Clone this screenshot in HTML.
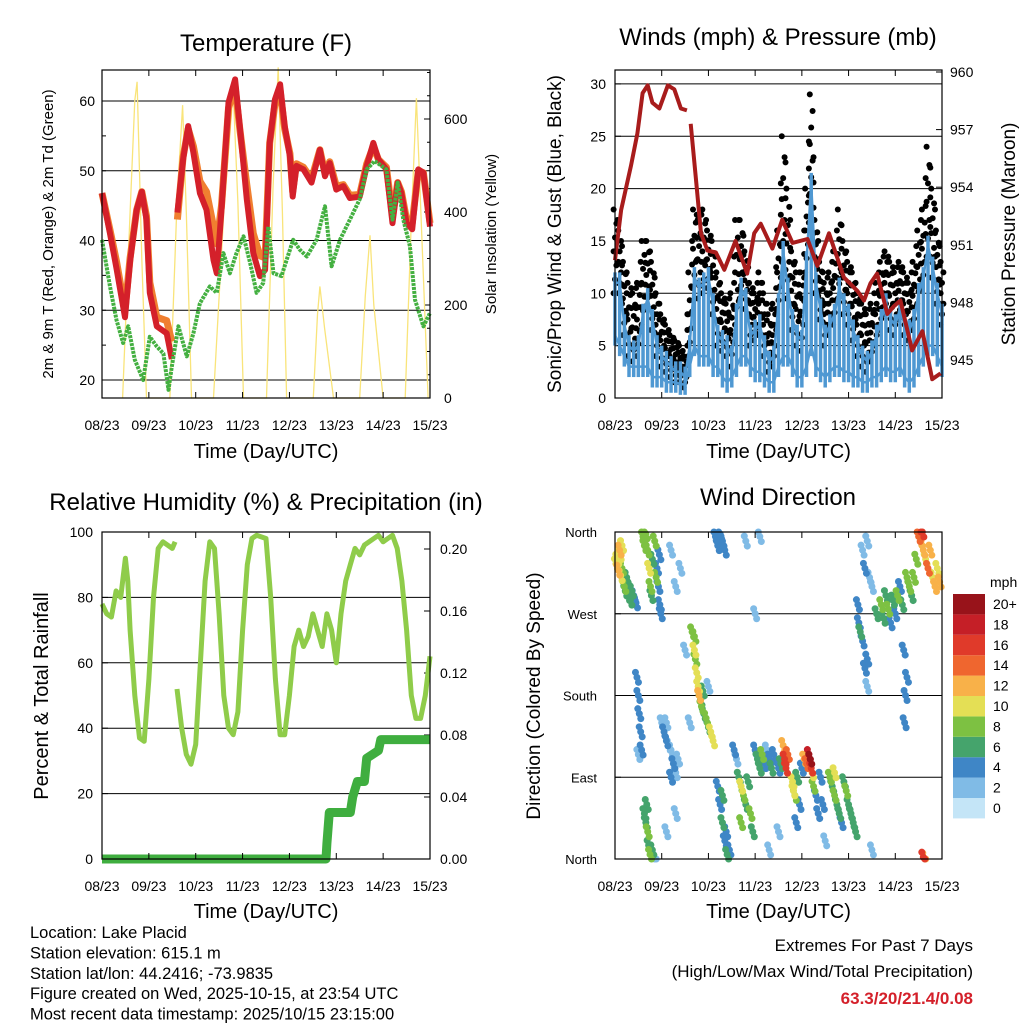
<!DOCTYPE html>
<html><head><meta charset="utf-8"><style>
body{margin:0;background:#fff}
svg{display:block;font-family:"Liberation Sans",sans-serif}
</style></head><body>
<svg id="c" width="1024" height="1024" viewBox="0 0 1024 1024" xmlns="http://www.w3.org/2000/svg">
<rect width="1024" height="1024" fill="#fff"/>
<g id="g"></g>
</svg>
<script>
// ---- Temperature data (t in days since 08/23) ----
const tempT=[0,0.17,0.31,0.49,0.6,0.74,0.85,0.95,1.02,1.17,1.38,1.49,null,1.61,1.73,1.84,1.95,2.09,2.23,2.38,2.45,2.55,2.7,2.84,2.94,3.09,3.23,3.37,3.48,3.58,3.69,3.8,3.9,4.01,4.07,4.15,4.3,4.47,4.65,4.76,4.86,5.0,5.15,5.29,5.5,5.65,5.79,5.9,6.07,6.2,6.31,6.39,6.5,6.62,6.75,6.86,7.0];
const tempRed=[46.8,41,36,29,37,44.4,47,43,32.5,27.7,26.7,23,null,44,51.6,56.4,52.6,46.8,44.4,37.2,35.3,44.4,59.8,63.1,56.4,45.9,38.2,34.9,35.8,54,60.2,62.4,56.4,52.1,46.3,50.7,50.2,48.3,53,49.2,51.1,47.3,47.8,46.1,46.3,50.7,54,51.6,50.2,42.5,48.3,46.8,42.5,41.6,50.2,49.7,42];
const tempOrange=[46.8,41.5,37,30,37.5,44.4,47,43.5,34,29,28.5,25.5,null,43,52,56,53.5,48.5,47,42,39.5,45,59,62,56,48,41,37.8,37.5,54,59.5,61.5,56,52.5,47,51,50.5,48.8,53,49.6,51.3,47.8,48,46.5,46.6,51,53.5,51.6,50.5,43.5,48.3,47,43,42.5,50,49.7,42.5];
const tdT=[0,0.17,0.31,0.45,0.56,0.7,0.88,1.02,1.17,1.31,1.42,1.49,1.63,1.81,1.95,2.09,2.3,2.45,2.59,2.73,2.87,3.02,3.16,3.3,3.44,3.55,3.66,3.83,3.94,4.08,4.22,4.37,4.58,4.76,4.9,5.08,5.29,5.5,5.65,5.82,6.07,6.2,6.31,6.43,6.57,6.68,6.86,7.0];
const tdVal=[40.1,33.4,28.6,25.3,27.7,22.9,20,26.2,24.8,23.8,18.6,21.9,27.7,23.4,26.7,31,33.4,32.5,38.2,35.3,38.2,40.6,36.8,32.5,33.9,42,35.3,34.9,37.2,40.1,38.7,37.7,40.1,44.9,36.3,40.1,43,45.9,50.2,51.4,50.2,43,48.3,43,39.2,31.5,27.7,29.6];
const solarT=[0.44,0.6,0.7,0.75,0.85,0.95,1.45,1.6,1.72,1.8,1.91,2.38,2.6,2.8,2.9,3.02,3.51,3.65,3.76,3.85,3.94,4.51,4.6,4.65,4.75,4.94,5.5,5.62,5.72,5.8,6.0,6.47,6.6,6.71,6.82,6.96];
const solarW=[0,400,640,680,300,0,0,420,630,400,0,0,400,660,420,0,0,450,711,400,0,0,180,240,150,0,0,220,350,200,0,0,380,645,360,0];
// ---- Winds data (t = 0..7 step 0.1) ----
const windHi=[12,12,8,6,5.5,6,9,10.5,8.5,6,5,4.5,4,3.5,3.5,3,6,12.5,11.5,12,12.5,10,7,6.5,6,5,9,11.5,10.5,7,7.5,8,6,4.5,5,10,15,11.5,8.5,7,6.5,14,21.5,12,9.5,7,8,9,11.5,10,9,7.5,6,5,4.5,5.5,7,8.5,10,8.5,8,9.5,8,7.5,8.5,11,12.5,15.5,13.5,11,9];
const windLo=[5,4,3,2,2,2,2,2,1,1,1,0.5,0.5,0.5,0.3,0.3,2,4,3,3,3,2,2,1,0.5,1,2,3,3,2,1.5,1.5,1,0.5,0.5,2,3,3,2,1,1,2,4,2,1.5,1,1.5,2,2,1.5,1.5,1,1,0.5,0.5,1,1,1.5,2,1.5,1.5,2,1,0.5,1,2,3,4,4,3,2];
const gust=[18,16,13,11,10,11,15,15,13,10,8,7,6,5.5,5,4,12,18,17,18,16,15,12,10,9,10,17,17,14,11,10,12,10,8,9,16,25,20,14,12,12,20,29,17,13,11,12,14,18,15,13,12,10,9,8,9,11,13,14,13,12,13,12,11,13,16,18,24,20,16,13];
const presT=[0,0.13,0.34,0.48,0.59,0.7,0.8,0.95,1.13,1.27,1.41,1.54,null,1.62,1.73,1.84,1.98,2.16,2.34,2.58,2.83,2.98,3.12,3.37,3.58,3.8,4.12,4.33,4.58,4.9,5.19,5.33,5.47,5.61,5.83,5.97,6.11,6.36,6.58,6.79,6.97];
const presMb=[950.2,952.8,955.1,956.8,958.9,959.3,958.4,958.1,959.3,959.1,958.1,958,null,957.3,954.5,951.6,950.7,950.6,949.7,951.2,949.5,951.6,952.1,950.8,952.3,951.1,951.3,949.9,951.6,949.3,948.6,948.1,949,949.5,947.4,947.8,948.1,945.5,946.5,944,944.3];
// ---- RH / Precip ----
const rhT=[0,0.1,0.2,0.3,0.4,0.5,0.55,0.6,0.7,0.8,0.9,1.0,1.1,1.2,1.3,1.5,1.56,null,1.6,1.7,1.8,1.9,2.0,2.1,2.2,2.3,2.4,2.5,2.6,2.7,2.8,2.9,3.0,3.1,3.2,3.3,3.5,3.6,3.7,3.8,3.9,4.0,4.1,4.2,4.3,4.4,4.5,4.6,4.7,4.8,4.9,5.0,5.1,5.2,5.3,5.4,5.5,5.6,5.8,5.9,6.0,6.1,6.2,6.3,6.4,6.5,6.6,6.7,6.8,6.9,7.0];
const rhVal=[78,75,74,82,80,92,85,70,50,37,36,55,80,95,97,95,97,null,52,40,32,29,35,60,85,97,95,75,50,40,38,45,70,90,98,99,98,80,55,38,38,50,65,70,65,68,75,70,65,75,70,60,75,85,90,95,93,96,98,99,97,98,99,95,85,70,50,43,43,50,62];
const precipT=[0,4.78,4.8,4.85,5.3,5.35,5.45,5.6,5.65,5.9,5.95,7];
const precipIn=[0,0,0.01,0.03,0.03,0.04,0.05,0.05,0.065,0.07,0.077,0.077];
// ---- Wind direction ----
const dirT=[0.02,0.05,0.07,0.1,0.12,0.15,0.18,0.2,0.22,0.25,0.28,0.3,0.33,0.36,0.4,0.45,0.1,0.15,0.6,0.63,0.66,0.7,0.73,0.76,0.8,0.85,0.88,0.78,0.9,0.93,0.96,0.98,0.95,0.47,0.5,0.52,0.55,0.57,0.5,1.0,1.05,1.1,1.15,1.2,1.25,1.3,1.35,1.1,1.2,0.63,0.66,0.7,0.72,0.75,0.8,0.68,1.65,1.7,1.72,1.75,1.78,1.8,1.83,1.85,1.9,1.95,2.0,2.05,2.1,1.7,1.88,2.15,2.2,2.25,2.3,2.35,2.2,2.25,2.3,2.35,2.4,2.45,2.3,2.38,2.55,2.6,2.65,2.7,2.75,2.8,2.85,2.9,2.95,2.7,3.0,3.05,3.1,3.15,3.2,3.25,3.3,3.35,3.4,3.5,3.6,3.63,3.66,3.7,3.55,3.8,3.82,3.85,3.9,3.95,3.88,4.0,4.05,4.1,4.15,4.18,4.2,4.22,4.25,4.3,4.35,4.4,4.45,4.6,4.65,4.7,4.75,4.8,4.85,4.9,4.95,5.0,5.05,5.1,5.15,4.7,5.2,5.22,5.25,5.3,5.35,5.4,5.3,5.35,5.4,5.45,5.5,5.6,5.7,5.75,5.8,5.85,5.9,5.95,6.0,6.05,6.1,6.15,6.25,6.3,6.35,6.2,6.22,6.18,6.25,6.5,6.55,6.58,6.6,6.65,6.7,6.75,6.8,6.85,6.9,6.95,6.45,6.4,6.6,6.62,0.85,1.2,1.3,1.5,1.4,1.6,2.0,2.8,3.1,3.0,3.3,3.5,4.5,5.5,5.4,1.1,1.3];
const dirDeg=[325,330,318,335,312,320,305,300,295,310,290,300,285,295,290,282,340,345,355,345,358,340,320,300,330,350,310,290,320,300,280,270,335,200,180,160,140,120,115,150,140,130,125,120,105,95,110,150,90,50,40,30,15,5,10,60,250,230,220,205,190,180,175,168,160,155,145,140,130,245,185,355,345,358,350,340,80,60,40,20,5,10,70,30,120,110,90,80,70,60,85,50,30,40,120,110,100,115,105,120,110,100,115,100,125,110,100,115,105,85,75,70,90,60,40,100,110,105,115,110,100,95,80,70,50,90,60,90,80,70,60,50,40,85,75,60,50,40,30,95,280,260,250,240,210,220,340,320,350,310,300,270,280,265,290,275,260,285,270,290,300,280,310,300,290,150,180,230,200,355,350,360,340,330,320,340,310,300,320,305,330,310,2,1,0,340,300,230,320,150,190,350,355,270,10,30,20,10,190,30,50];
const dirSpd=[10,10,11,9,10,8,6,7,6,6,5,6,6,5,4,4,11,9,7,8,7,8,9,7,6,8,7,6,4,3,4,3,4,3,4,3,4,3,2,2,4,3,2,2,3,2,2,2,3,6,6,7,6,8,6,6,8,10,8,9,10,12,6,8,6,7,6,10,9,7,6,4,4,3,4,4,4,4,5,4,5,3,5,4,3,2,6,10,7,6,6,7,6,7,4,6,5,7,4,2,4,5,3,4,12,15,16,14,6,9,10,8,6,4,4,4,12,14,18,20,16,10,8,4,4,4,3,7,6,8,6,6,4,6,7,6,6,6,6,9,3,4,6,3,3,4,2,3,2,2,2,6,8,6,6,8,4,6,4,7,4,6,7,8,6,4,4,3,4,14,12,16,12,10,13,12,10,12,10,11,8,8,16,12,1,1,1,1,1,1,2,1,1,1,1,1,1,1,2,1,1];
const speedColors=['#c4e5f7','#80bbe6','#3f86c6','#45a46c','#7dc142','#e4df55','#f8b149','#ef662f','#e03a2a','#c51f27','#98131a'];
const speedLabels=['0','2','4','6','8','10','12','14','16','18','20+'];
const dayLabels=['08/23','09/23','10/23','11/23','12/23','13/23','14/23','15/23'];

const NS='http://www.w3.org/2000/svg';
const G=document.getElementById('g');
function el(tag,attrs,parent){const e=document.createElementNS(NS,tag);for(const k in attrs)e.setAttribute(k,attrs[k]);(parent||G).appendChild(e);return e;}
function txt(s,x,y,size,anchor,parent,extra){const e=el('text',Object.assign({x:x,y:y,'font-size':size,'text-anchor':anchor||'middle',fill:'#000'},extra||{}),parent);e.textContent=s;return e;}
function pathFrom(ts,vs,fx,fy){let d='',pen=false;for(let i=0;i<ts.length;i++){if(ts[i]===null||vs[i]===null){pen=false;continue;}d+=(pen?'L':'M')+fx(ts[i]).toFixed(1)+' '+fy(vs[i]).toFixed(1);pen=true;}return d;}

function frame(p,name){
  const g=el('g',{});
  
  
  return g;
}
function xAxis(p,g,labY,titleY){
  for(let i=0;i<8;i++){const x=p.x0+i*(p.x1-p.x0)/7;
    el('line',{x1:x,y1:p.y1,x2:x,y2:p.y1-6,stroke:'#000','stroke-width':1},g);
    el('line',{x1:x,y1:p.y0,x2:x,y2:p.y0+6,stroke:'#000','stroke-width':1},g);
    const t=txt(dayLabels[i],x,labY,14,'middle',g);
    
    
  }
  const tt=txt('Time (Day/UTC)',(p.x0+p.x1)/2,titleY,20,'middle',g);
  
  
}
function box(p,g){el('rect',{x:p.x0,y:p.y0,width:p.x1-p.x0,height:p.y1-p.y0,fill:'none',stroke:'#000','stroke-width':1.2},g);}

// ===== Panel 1: Temperature =====
(function(){
  const p={x0:102,x1:430,y0:70,y1:398};
  const g=frame(p,'temperature-panel');
  const fx=t=>p.x0+t*(p.x1-p.x0)/7;
  const fy=v=>380-(v-20)*6.975;
  const fs=w=>398-w*0.465;
  [20,30,40,50,60].forEach(v=>{el('line',{x1:p.x0,x2:p.x1,y1:fy(v),y2:fy(v),stroke:'#000','stroke-width':1},g);
    const t=txt(String(v),p.x0-7,fy(v)+5,14,'end',g);});
  for(let v=20;v<=64;v+=5){el('line',{x1:p.x0,x2:p.x0+4,y1:fy(v),y2:fy(v),stroke:'#000'},g);}
  [0,200,400,600].forEach(v=>{el('line',{x1:p.x1,x2:p.x1-6,y1:fs(v),y2:fs(v),stroke:'#000'},g);
    const t=txt(String(v),p.x1+14,fs(v)+5,14,'start',g);});
  for(let v=0;v<=700;v+=50){el('line',{x1:p.x1,x2:p.x1-3,y1:fs(v),y2:fs(v),stroke:'#000'},g);}
  const s=el('path',{d:pathFrom(solarT,solarW,fx,fs),fill:'none',stroke:'#f9e47a','stroke-width':1.3},g);
  
  const o=el('path',{d:pathFrom(tempT,tempOrange,fx,fy),fill:'none',stroke:'#f07f30','stroke-width':7,'stroke-linejoin':'round'},g);
  
  const r=el('path',{d:pathFrom(tempT,tempRed,fx,fy),fill:'none',stroke:'#d4202a','stroke-width':6,'stroke-linejoin':'round'},g);
  
  const gr=el('path',{d:pathFrom(tdT,tdVal,fx,fy),fill:'none',stroke:'#44b041','stroke-width':4,'stroke-dasharray':'3 1','stroke-linejoin':'round'},g);
  
  box(p,g);xAxis(p,g,430,458);
  const ti=txt('Temperature (F)',266,51,24,'middle',g);
  const yl=txt('2m & 9m T (Red, Orange) & 2m Td (Green)',0,0,15,'middle',g,{transform:'translate(53,234) rotate(-90)'});
  const yr=txt('Solar Insolation (Yellow)',0,0,15,'middle',g,{transform:'translate(496,234) rotate(-90)'});
})();

// ===== Panel 2: Winds =====
(function(){
  const p={x0:615,x1:942,y0:70,y1:398};
  const g=frame(p,'winds-panel');
  const fx=t=>p.x0+t*(p.x1-p.x0)/7;
  const fy=v=>398-v*10.47;
  const fp=v=>360-(v-945)*19.2;
  [5,10,15,20,25,30].forEach(v=>el('line',{x1:p.x0,x2:p.x1,y1:fy(v),y2:fy(v),stroke:'#000','stroke-width':1},g));
  [0,5,10,15,20,25,30].forEach(v=>{el('line',{x1:p.x0,x2:p.x0+6,y1:fy(v),y2:fy(v),stroke:'#000'},g);
    const t=txt(String(v),p.x0-9,fy(v)+5,14,'end',g);});
  [945,948,951,954,957,960].forEach(v=>{el('line',{x1:p.x1,x2:p.x1-6,y1:fp(v),y2:fp(v),stroke:'#000'},g);
    const t=txt(String(v),p.x1+8,fp(v)+5,14,'start',g);});
  const dg=el('g',{},g);
  for(let i=0;i<gust.length;i++){const t=i*0.1;
    for(let k=0;k<=6;k++){const v=windHi[i]-2+k*(gust[i]-windHi[i]+2)/6;
      el('circle',{cx:fx(t+((k%3)-1)*0.03),cy:fy(v),r:3,fill:'#000'},dg);}
    if(i<gust.length-1){const m=(gust[i]+gust[i+1])/2,h=(windHi[i]+windHi[i+1])/2;
      for(let k=0;k<=3;k++){el('circle',{cx:fx(t+0.05),cy:fy(h-1+k*(m-h+1)/3),r:3,fill:'#000'},dg);}}
  }
  const bg=el('g',{},g);
  for(let i=0;i<windHi.length;i++){const t=i*0.1;
    el('line',{x1:fx(t),x2:fx(t),y1:fy(windLo[i]),y2:fy(windHi[i]),stroke:'#4f98d2','stroke-width':3.5},bg);}
  el('path',{d:pathFrom(windHi.map((v,i)=>i*0.1),windHi.map(v=>v-1),fx,fy),fill:'none',stroke:'#4f98d2','stroke-width':2.5,'stroke-linejoin':'round'},bg);
  el('path',{d:pathFrom(windLo.map((v,i)=>i*0.1),windLo.map(v=>v+1),fx,fy),fill:'none',stroke:'#4f98d2','stroke-width':2.5,'stroke-linejoin':'round'},bg);
  const pr=el('path',{d:pathFrom(presT,presMb,fx,fp),fill:'none',stroke:'#a81c1c','stroke-width':4,'stroke-linejoin':'round'},g);
  
  box(p,g);xAxis(p,g,430,458);
  const ti=txt('Winds (mph) & Pressure (mb)',778,45,24,'middle',g);
  const yl=txt('Sonic/Prop Wind & Gust (Blue, Black)',0,0,19,'middle',g,{transform:'translate(561,234) rotate(-90)'});
  const yr=txt('Station Pressure (Maroon)',0,0,19,'middle',g,{transform:'translate(1015,234) rotate(-90)'});
})();

// ===== Panel 3: RH & Precip =====
(function(){
  const p={x0:102,x1:430,y0:532,y1:859};
  const g=frame(p,'humidity-panel');
  const fx=t=>p.x0+t*(p.x1-p.x0)/7;
  const fy=v=>859-v*3.27;
  const fr=v=>859-v*1550;
  [20,40,60,80].forEach(v=>el('line',{x1:p.x0,x2:p.x1,y1:fy(v),y2:fy(v),stroke:'#000','stroke-width':1},g));
  [0,20,40,60,80,100].forEach(v=>{el('line',{x1:p.x0,x2:p.x0+6,y1:fy(v),y2:fy(v),stroke:'#000'},g);
    const t=txt(String(v),p.x0-9,fy(v)+5,14,'end',g);});
  [0,0.04,0.08,0.12,0.16,0.2].forEach(v=>{el('line',{x1:p.x1,x2:p.x1-6,y1:fr(v),y2:fr(v),stroke:'#000'},g);
    const t=txt(v.toFixed(2),p.x1+10,fr(v)+5,14,'start',g);});
  const rh=el('path',{d:pathFrom(rhT,rhVal,fx,fy),fill:'none',stroke:'#8fcc4a','stroke-width':5,'stroke-linejoin':'round'},g);
  
  const pc=el('path',{d:pathFrom(precipT,precipIn,fx,fr),fill:'none',stroke:'#3fae3f','stroke-width':9,'stroke-linejoin':'round'},g);
  
  box(p,g);xAxis(p,g,891,918);
  const ti=txt('Relative Humidity (%) & Precipitation (in)',266,510,24,'middle',g);
  const yl=txt('Percent & Total Rainfall',0,0,20,'middle',g,{transform:'translate(48,696) rotate(-90)'});
})();

// ===== Panel 4: Wind Direction =====
(function(){
  const p={x0:615,x1:942,y0:532,y1:859};
  const g=frame(p,'wind-direction-panel');
  const fx=t=>p.x0+t*(p.x1-p.x0)/7;
  const fy=d=>859-d*327/360;
  [90,180,270].forEach(v=>el('line',{x1:p.x0,x2:p.x1,y1:fy(v),y2:fy(v),stroke:'#000','stroke-width':1},g));
  const names=['North','East','South','West','North'];
  [0,90,180,270,360].forEach((v,i)=>{el('line',{x1:p.x0,x2:p.x0+6,y1:fy(v),y2:fy(v),stroke:'#000'},g);
    const t=txt(names[i],p.x0-18,fy(v)+5,13,'end',g);});
  const dg=el('g',{},g);
  const order=dirSpd.map((s,i)=>i).sort((a,b)=>dirSpd[a]-dirSpd[b]);
  order.forEach(i=>{const ci=Math.min(10,Math.round(dirSpd[i]/2));
    const cy=fy(dirDeg[i]);
    el('circle',{cx:fx(dirT[i]),cy:Math.max(p.y0,Math.min(p.y1,cy)),r:3.5,fill:speedColors[ci]},dg);
    el('circle',{cx:fx(dirT[i])+1.5,cy:Math.min(p.y1,cy+5),r:3.5,fill:speedColors[ci]},dg);
    el('circle',{cx:fx(dirT[i])-1.5,cy:Math.max(p.y0,cy-5),r:3.5,fill:speedColors[ci]},dg);});
  box(p,g);xAxis(p,g,891,918);
  const ti=txt('Wind Direction',778,505,24,'middle',g);
  const yl=txt('Direction (Colored By Speed)',0,0,19,'middle',g,{transform:'translate(540,696) rotate(-90)'});
  const lg=el('g',{},g);
  const u=txt('mph',990,587,14,'start',lg);
  for(let i=0;i<11;i++){const y=798-i*20.4;
    el('rect',{x:953,y:y,width:32,height:20.4,fill:speedColors[i]},lg);
    const t=txt(speedLabels[i],993,y+15,14,'start',lg);}
})();

// ===== Footer text =====
(function(){
  const g=el('g',{});
  ['Location: Lake Placid','Station elevation: 615.1 m','Station lat/lon: 44.2416; -73.9835','Figure created on Wed, 2025-10-15, at 23:54 UTC','Most recent data timestamp: 2025/10/15 23:15:00'].forEach((s,i)=>txt(s,30,938+i*20.4,16.5,'start',g));
  const h=el('g',{});
  txt('Extremes For Past 7 Days',973,951,17,'end',h);
  txt('(High/Low/Max Wind/Total Precipitation)',973,977,17,'end',h);
  txt('63.3/20/21.4/0.08',973,1004,17,'end',h,{fill:'#d4202a','font-weight':'bold'});
})();
</script>
</body></html>
